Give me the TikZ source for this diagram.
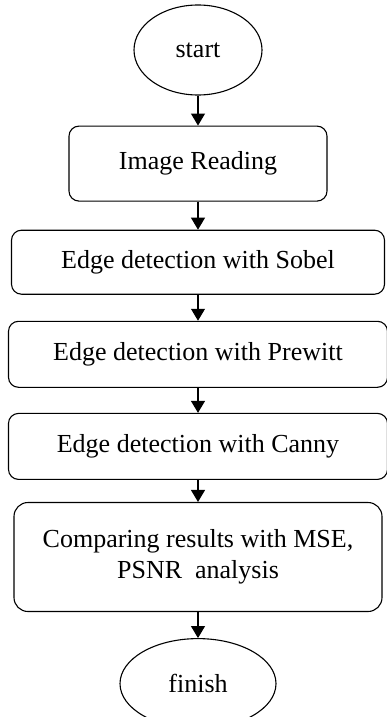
\documentclass[tikz,border=0pt]{standalone}
\usepackage{fontspec}
\setmainfont{Liberation Serif}
\usetikzlibrary{positioning,shapes.geometric,arrows.meta}

\begin{document}
\begin{tikzpicture}[node distance=26pt, line width=1.1pt, >={Triangle[length=12pt,width=14pt]},
	every node/.style={draw, align=center, font=\fontsize{26}{31}\selectfont},
	terminal/.style={shape=ellipse, minimum width=128pt, minimum height=90pt, inner sep=0pt},
	process/.style={shape=rectangle, rounded corners=10pt, minimum height=66pt, inner sep=0pt}]
	\useasboundingbox (0,0) rectangle (387pt,-717pt);

	\node (Start) [terminal] at (198pt,-50pt) {start};
	\node (ImageReading) [process, minimum width=258pt, minimum height=75pt, below=30pt of Start] {Image Reading};
	\node (Sobel) [process, minimum width=373pt, minimum height=64pt, below=28pt of ImageReading] {Edge detection with Sobel};
	\node (Prewitt) [process, minimum width=379pt, below=of Sobel] {Edge detection with Prewitt};
	\node (Canny) [process, minimum width=379pt, below=25pt of Prewitt] {Edge detection with Canny};
	\node (Comparison) [process, minimum width=368pt, minimum height=109pt, rounded corners=14pt, below=22pt of Canny] {Comparing results with MSE,\\ PSNR~ analysis};
	\node (Finish) [terminal, minimum width=156pt, below=of Comparison] {finish};

	\draw[->] (Start) -- (ImageReading);
	\draw[->] (ImageReading) -- (Sobel);
	\draw[->] (Sobel) -- (Prewitt);
	\draw[->] (Prewitt) -- (Canny);
	\draw[->] (Canny) -- (Comparison);
	\draw[->] (Comparison) -- (Finish);
\end{tikzpicture}
\end{document}
